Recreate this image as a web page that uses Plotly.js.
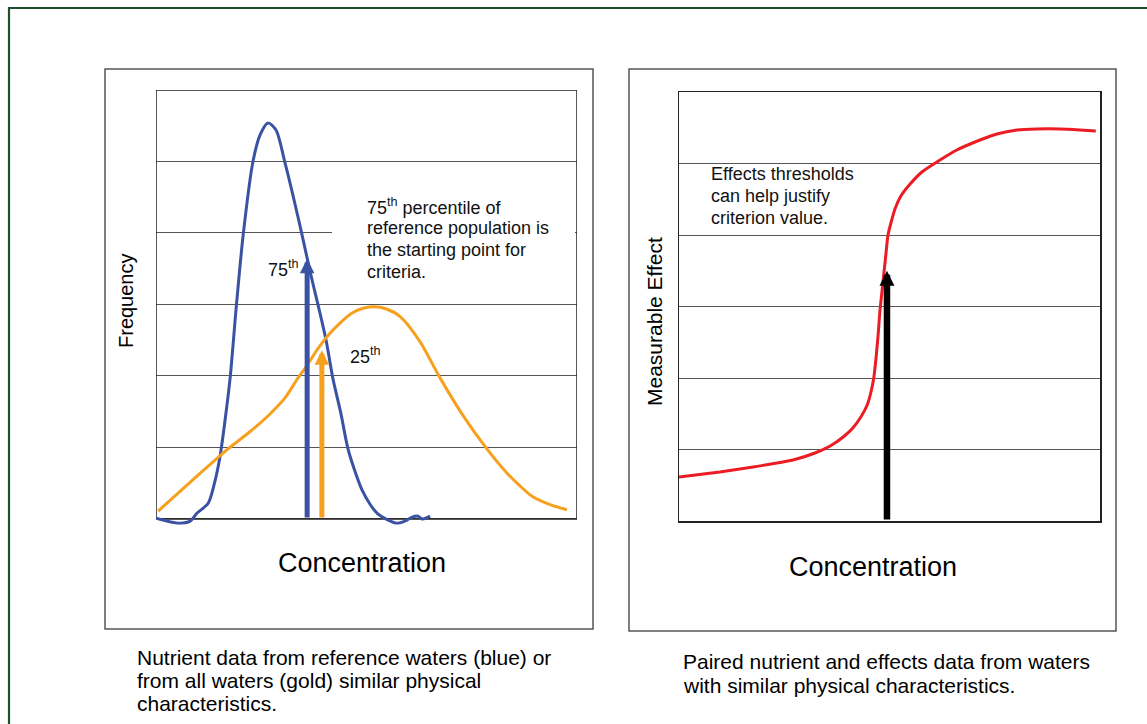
<!DOCTYPE html>
<html>
<head>
<meta charset="utf-8">
<script src="https://cdn.plot.ly/plotly-3.0.1.min.js"></script>
<style>
html,body{margin:0;padding:0;background:#ffffff;}
#chart{width:1147px;height:724px;}
</style>
</head>
<body>
<div id="chart"></div>
<script>
// ---- Left panel: frequency distributions (x = concentration, y = frequency) ----
const blueX = [0, 3.3, 5.7, 8.1, 9.7, 12.4, 13.8, 15.2, 16.4, 17.6, 19.1, 20.7, 23.0, 24.7, 26.6, 28.5, 30.6, 32.8, 34.7, 36.8, 38.5, 40.4, 42.0, 43.9, 45.6, 47.3, 48.9, 50.8, 52.7, 54.9, 57.2, 59.1, 61.0, 62.2, 63.2, 64.1, 65.1];
const blueY = [0.01, -0.04, -0.06, -0.03, 0.08, 0.22, 0.48, 0.87, 1.38, 1.97, 2.99, 3.97, 4.99, 5.37, 5.54, 5.44, 4.99, 4.46, 3.97, 3.41, 2.99, 2.50, 1.97, 1.48, 0.98, 0.66, 0.41, 0.21, 0.07, -0.01, -0.06, -0.03, 0.03, 0.04, 0.0, 0.01, 0.04];

const goldX = [0.5, 8.8, 17.1, 22.3, 26.4, 30.6, 33.7, 35.9, 38.2, 40.6, 43.7, 46.6, 49.4, 51.8, 54.6, 58.0, 62.7, 67.5, 72.9, 78.6, 83.4, 86.5, 89.5, 93.6, 97.6];
const goldY = [0.11, 0.55, 0.98, 1.22, 1.43, 1.69, 1.97, 2.15, 2.36, 2.55, 2.74, 2.88, 2.95, 2.97, 2.94, 2.83, 2.48, 1.97, 1.45, 0.98, 0.64, 0.46, 0.31, 0.20, 0.13];

// percentile arrows: [75th of reference (blue), 25th of all waters (gold)]
const percentileLabels = ["75<sup>th</sup>", "25<sup>th</sup>"];
const percentileX = [35.9, 39.4];
const percentileTip = [3.64, 2.36];

// ---- Right panel: stressor-response curve ----
const redX = [0, 9.7, 17.6, 27.1, 32.3, 35.9, 39.0, 41.3, 43.2, 44.7, 45.6, 46.3, 46.8, 47.3, 47.7, 48.2, 48.7, 49.2, 49.6, 50.4, 51.3, 52.7, 54.9, 57.7, 62.0, 66.0, 71.5, 75.5, 80.3, 85.0, 90.5, 95.2, 99.0];
const redY = [0.615, 0.685, 0.755, 0.853, 0.951, 1.049, 1.175, 1.301, 1.455, 1.622, 1.804, 2.014, 2.280, 2.601, 2.923, 3.203, 3.483, 3.762, 3.986, 4.182, 4.364, 4.545, 4.713, 4.881, 5.049, 5.189, 5.329, 5.413, 5.469, 5.483, 5.483, 5.469, 5.455];

const effectX = 49.4;
const effectTip = 3.50;

// ---- Text ----
const xTitle = "Concentration";
const leftYTitle = "Frequency";
const rightYTitle = "Measurable Effect";
const leftNote = ["75<sup>th</sup> percentile of", "reference population is", "the starting point for", "criteria."];
const rightNote = ["Effects thresholds", "can help justify", "criterion value."];
const leftCaption = ["Nutrient data from reference waters (blue) or", "from all waters (gold) similar physical", "characteristics."];
const rightCaption = ["Paired nutrient and effects data from waters", "with similar physical characteristics."];

// ---- Styling ----
const FONT = "Arial, 'Liberation Sans', sans-serif";
const BLUE = "#3a52a3";
const GOLD = "#f7a01e";
const RED = "#ec1c24";
const W = 1147, H = 724;
const px = v => v / W;
const py = v => 1 - v / H;

const traces = [
  {x: blueX, y: blueY, xaxis: 'x', yaxis: 'y', mode: 'lines', line: {color: BLUE, width: 3, shape: 'spline', smoothing: 0.8}, hoverinfo: 'skip', showlegend: false},
  {x: goldX, y: goldY, xaxis: 'x', yaxis: 'y', mode: 'lines', line: {color: GOLD, width: 3, shape: 'spline', smoothing: 0.8}, hoverinfo: 'skip', showlegend: false},
  {x: redX, y: redY, xaxis: 'x2', yaxis: 'y2', mode: 'lines', line: {color: RED, width: 3, shape: 'spline', smoothing: 0.5}, hoverinfo: 'skip', showlegend: false}
];

function axis(domain, range, anchor) {
  return {
    domain: domain, range: range, anchor: anchor,
    showticklabels: false, ticks: '', zeroline: false,
    showline: false, fixedrange: true
  };
}

// left panel: y range reaches slightly below zero so the curve's dips show under the frame
const xa = axis([px(156), px(577)], [0, 100], 'y');
xa.showgrid = false;
const ya = axis([py(524.7), py(90)], [-0.08, 6], 'x');
ya.showgrid = true; ya.gridcolor = '#555'; ya.gridwidth = 1; ya.dtick = 1; ya.tick0 = 0;
const xa2 = axis([px(679), px(1100)], [0, 100], 'y2');
xa2.showgrid = false; xa2.showline = true; xa2.mirror = true; xa2.linecolor = '#222'; xa2.linewidth = 1.5;
const ya2 = axis([py(521), py(92)], [0, 6], 'x2');
ya2.showgrid = true; ya2.gridcolor = '#555'; ya2.gridwidth = 1; ya2.dtick = 1; ya2.tick0 = 0;
ya2.showline = true; ya2.mirror = true; ya2.linecolor = '#222'; ya2.linewidth = 1.5;

const annotations = [];
const arrowColors = [BLUE, GOLD];
const labelPos = [[266, 268], [348, 355]];
for (let i = 0; i < percentileX.length; i++) {
  annotations.push({
    xref: 'x', yref: 'y', axref: 'x', ayref: 'y',
    x: percentileX[i], y: percentileTip[i], ax: percentileX[i], ay: 0,
    text: '', showarrow: true, arrowhead: 2, arrowsize: 0.58, arrowwidth: 5,
    arrowcolor: arrowColors[i], standoff: 0
  });
  annotations.push({
    xref: 'paper', yref: 'paper', x: px(labelPos[i][0]), y: py(labelPos[i][1]),
    xanchor: 'left', yanchor: 'middle', showarrow: false,
    text: percentileLabels[i], font: {family: FONT, size: 18, color: '#111'}
  });
}
annotations.push({
  xref: 'x2', yref: 'y2', axref: 'x2', ayref: 'y2',
  x: effectX, y: effectTip, ax: effectX, ay: 0,
  text: '', showarrow: true, arrowhead: 2, arrowsize: 0.46, arrowwidth: 6.5,
  arrowcolor: '#000', standoff: 0
});

// notes (one annotation per line for exact leading)
const leftNoteY = [206, 228, 250, 272];
leftNote.forEach((t, i) => annotations.push({xref: 'paper', yref: 'paper', x: px(365), y: py(leftNoteY[i]),
  xanchor: 'left', yanchor: 'middle', showarrow: false, text: t, font: {family: FONT, size: 18, color: '#111'}}));
const rightNoteY = [174, 196, 218];
rightNote.forEach((t, i) => annotations.push({xref: 'paper', yref: 'paper', x: px(709), y: py(rightNoteY[i]),
  xanchor: 'left', yanchor: 'middle', showarrow: false, text: t, font: {family: FONT, size: 18, color: '#111'}}));

// axis titles
annotations.push({xref: 'paper', yref: 'paper', x: px(362), y: py(563), xanchor: 'center', yanchor: 'middle',
  showarrow: false, text: xTitle, font: {family: FONT, size: 27, color: '#000'}});
annotations.push({xref: 'paper', yref: 'paper', x: px(873), y: py(567), xanchor: 'center', yanchor: 'middle',
  showarrow: false, text: xTitle, font: {family: FONT, size: 27, color: '#000'}});
annotations.push({xref: 'paper', yref: 'paper', x: px(126), y: py(301), xanchor: 'center', yanchor: 'middle',
  textangle: -90, showarrow: false, text: leftYTitle, font: {family: FONT, size: 20, color: '#000'}});
annotations.push({xref: 'paper', yref: 'paper', x: px(655), y: py(322), xanchor: 'center', yanchor: 'middle',
  textangle: -90, showarrow: false, text: rightYTitle, font: {family: FONT, size: 21, color: '#000'}});

// captions
const capL = [657, 680, 703];
leftCaption.forEach((t, i) => annotations.push({xref: 'paper', yref: 'paper', x: px(135), y: py(capL[i]),
  xanchor: 'left', yanchor: 'middle', showarrow: false, text: t, font: {family: FONT, size: 21, color: '#000'}}));
const capR = [661, 685];
rightCaption.forEach((t, i) => annotations.push({xref: 'paper', yref: 'paper', x: px(681), y: py(capR[i]),
  xanchor: 'left', yanchor: 'middle', showarrow: false, text: t, font: {family: FONT, size: 21, color: '#000'}}));

const shapes = [
  // outer green frame
  {type: 'rect', xref: 'paper', yref: 'paper', x0: px(9), x1: px(1170), y0: py(745), y1: py(8),
   line: {color: '#1e4f2a', width: 2.2}, fillcolor: 'rgba(0,0,0,0)', layer: 'above'},
  // panel frames
  {type: 'rect', xref: 'paper', yref: 'paper', x0: px(105), x1: px(593), y0: py(629), y1: py(69),
   line: {color: '#555', width: 1.5}, fillcolor: 'rgba(0,0,0,0)', layer: 'below'},
  {type: 'rect', xref: 'paper', yref: 'paper', x0: px(629), x1: px(1116), y0: py(631), y1: py(69),
   line: {color: '#555', width: 1.5}, fillcolor: 'rgba(0,0,0,0)', layer: 'below'},
  // left plot frame along the axis extents (traces drawn over it)
  {type: 'rect', xref: 'x', yref: 'y', x0: 0, x1: 100, y0: 0, y1: 6,
   line: {color: '#222', width: 1.5}, fillcolor: 'rgba(0,0,0,0)', layer: 'between'},
  // white text backdrop hiding part of a gridline
  {type: 'rect', xref: 'paper', yref: 'paper', x0: px(332), x1: px(575), y0: py(290), y1: py(185),
   line: {width: 0}, fillcolor: '#ffffff', layer: 'above'}
];

const layout = {
  width: W, height: H,
  margin: {l: 0, r: 0, t: 0, b: 0},
  paper_bgcolor: '#ffffff', plot_bgcolor: '#ffffff',
  showlegend: false,
  xaxis: xa, yaxis: ya, xaxis2: xa2, yaxis2: ya2,
  annotations: annotations,
  shapes: shapes,
  font: {family: FONT}
};

Plotly.newPlot('chart', traces, layout, {displayModeBar: false, staticPlot: true});
</script>
</body>
</html>
